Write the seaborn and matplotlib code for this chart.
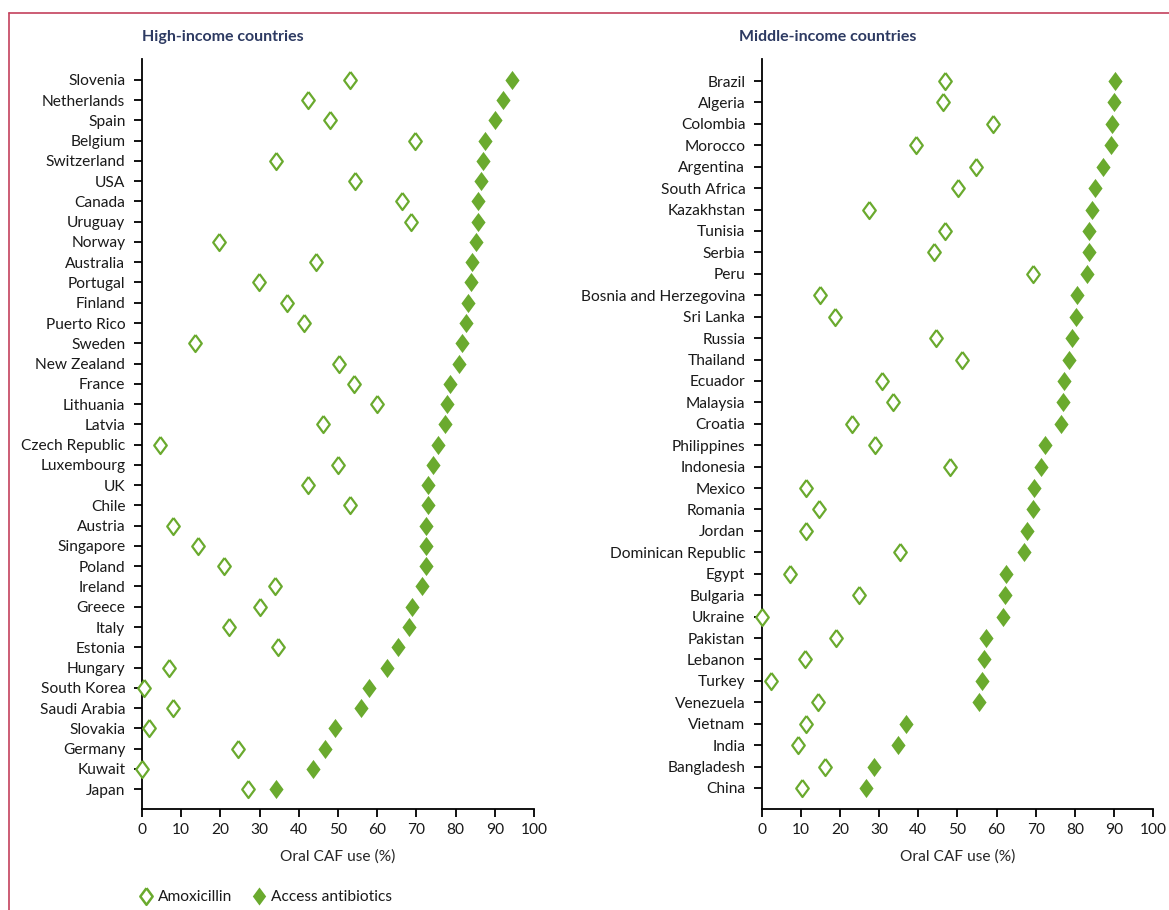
import matplotlib
matplotlib.use("Agg")
import matplotlib.pyplot as plt
from matplotlib.lines import Line2D
import pandas as pd
import seaborn as sns

# High-income countries
high_countries = [
    "Slovenia", "Netherlands", "Spain", "Belgium", "Switzerland", "USA", "Canada",
    "Uruguay", "Norway", "Australia", "Portugal", "Finland", "Puerto Rico", "Sweden",
    "New Zealand", "France", "Lithuania", "Latvia", "Czech Republic", "Luxembourg",
    "UK", "Chile", "Austria", "Singapore", "Poland", "Ireland", "Greece", "Italy",
    "Estonia", "Hungary", "South Korea", "Saudi Arabia", "Slovakia", "Germany",
    "Kuwait", "Japan",
]
high_amoxicillin = [
    53.0, 42.4, 47.9, 69.6, 34.3, 54.3, 66.3, 68.7, 19.7, 44.5, 29.8, 37.1, 41.2,
    13.6, 50.2, 54.2, 59.9, 46.1, 4.5, 50.0, 42.4, 53.0, 8.0, 14.3, 21.0, 33.8,
    30.2, 22.3, 34.8, 6.9, 0.4, 7.8, 1.9, 24.6, 0.1, 27.0,
]
high_access = [
    94.3, 92.1, 90.1, 87.4, 86.9, 86.5, 85.7, 85.6, 85.1, 84.2, 84.0, 83.1, 82.6,
    81.7, 80.8, 78.6, 77.8, 77.3, 75.6, 74.3, 73.0, 72.9, 72.4, 72.4, 72.4, 71.3,
    69.0, 68.2, 65.4, 62.4, 57.9, 55.9, 49.3, 46.8, 43.5, 34.3,
]

# Middle-income countries
middle_countries = [
    "Brazil", "Algeria", "Colombia", "Morocco", "Argentina", "South Africa",
    "Kazakhstan", "Tunisia", "Serbia", "Peru", "Bosnia and Herzegovina", "Sri Lanka",
    "Russia", "Thailand", "Ecuador", "Malaysia", "Croatia", "Philippines", "Indonesia",
    "Mexico", "Romania", "Jordan", "Dominican Republic", "Egypt", "Bulgaria",
    "Ukraine", "Pakistan", "Lebanon", "Turkey", "Venezuela", "Vietnam", "India",
    "Bangladesh", "China",
]
middle_amoxicillin = [
    46.9, 46.2, 59.2, 39.5, 54.8, 50.1, 27.4, 46.9, 44.0, 69.4, 14.9, 18.8, 44.6,
    51.2, 30.7, 33.5, 23.0, 28.9, 48.0, 11.3, 14.5, 11.2, 35.3, 7.2, 24.8, 0.1,
    18.9, 10.9, 2.2, 14.3, 11.3, 9.2, 16.2, 10.3,
]
middle_access = [
    90.3, 90.0, 89.4, 89.2, 87.2, 85.2, 84.4, 83.7, 83.7, 83.2, 80.5, 80.2, 79.2,
    78.5, 77.3, 77.1, 76.5, 72.4, 71.3, 69.6, 69.2, 67.7, 67.1, 62.3, 62.2, 61.7,
    57.2, 56.9, 56.4, 55.6, 36.8, 34.7, 28.7, 26.7,
]

x_ticks = [0, 10, 20, 30, 40, 50, 60, 70, 80, 90, 100]

GREEN = "#6aaa2e"
NAVY = "#2d3a62"
FRAME = "#c4415c"
DIAMOND = [(0, 1), (0.74, 0), (0, -1), (-0.74, 0), (0, 1)]

sns.set_theme(style="ticks")
plt.rcParams["font.family"] = ["Lato", "DejaVu Sans"]
plt.rcParams["axes.linewidth"] = 1.3
plt.rcParams["xtick.major.width"] = 1.3
plt.rcParams["ytick.major.width"] = 1.3
plt.rcParams["xtick.major.size"] = 6
plt.rcParams["ytick.major.size"] = 6
plt.rcParams["xtick.color"] = "black"
plt.rcParams["ytick.color"] = "black"
plt.rcParams["axes.edgecolor"] = "black"
plt.rcParams["text.color"] = "#1a1a1a"

fig = plt.figure(figsize=(11.69, 9.10), dpi=100)
ax_hi = fig.add_axes([0.1215, 0.111, 0.3353, 0.824])
ax_mid = fig.add_axes([0.6518, 0.111, 0.3345, 0.824])

LABEL_SIZE = 11.2


def draw_panel(ax, countries, amox, access, title, title_x):
    df = pd.DataFrame({"country": countries, "pos": range(len(countries)),
                       "amoxicillin": amox, "access": access})
    sns.scatterplot(data=df, x="amoxicillin", y="pos", ax=ax, marker=DIAMOND,
                    s=150, facecolor="white", edgecolor=GREEN, linewidth=1.6,
                    zorder=3, legend=False, clip_on=False)
    sns.scatterplot(data=df, x="access", y="pos", ax=ax, marker=DIAMOND,
                    s=190, color=GREEN, edgecolor=GREEN, linewidth=0,
                    zorder=4, legend=False, clip_on=False)
    n = len(countries)
    ax.set_ylim(n - 0.02, -1.02)
    ax.set_xlim(0, 100)
    ax.set_yticks(range(n))
    ax.set_yticklabels(countries, fontsize=LABEL_SIZE, color="#1a1a1a")
    ax.set_xticks(x_ticks)
    ax.set_xticklabels([str(t) for t in x_ticks], fontsize=LABEL_SIZE,
                       color="#1a1a1a")
    ax.tick_params(axis="y", pad=6)
    ax.tick_params(axis="x", pad=4)
    ax.set_ylabel("")
    ax.set_xlabel("Oral CAF use (%)", fontsize=LABEL_SIZE, labelpad=9)
    sns.despine(ax=ax)
    fig.text(title_x, 0.959, title, fontsize=11.5, fontweight="bold",
             color=NAVY, ha="left", va="center")


draw_panel(ax_hi, high_countries, high_amoxicillin, high_access,
           "High-income countries", 0.1215)
draw_panel(ax_mid, middle_countries, middle_amoxicillin, middle_access,
           "Middle-income countries", 0.632)

# Thin frame along the top and left edges
fig.add_artist(Line2D([0.0077, 1.0], [0.9857, 0.9857], color=FRAME, lw=1.2,
                      transform=fig.transFigure))
fig.add_artist(Line2D([0.0077, 0.0077], [0.0, 0.9857], color=FRAME, lw=1.2,
                      transform=fig.transFigure))

handles = [
    Line2D([], [], linestyle="none", marker=DIAMOND, markersize=12,
           markerfacecolor="white", markeredgecolor=GREEN, markeredgewidth=1.8,
           label="Amoxicillin"),
    Line2D([], [], linestyle="none", marker=DIAMOND, markersize=13,
           markerfacecolor=GREEN, markeredgecolor=GREEN, markeredgewidth=0,
           label="Access antibiotics"),
]
fig.legend(handles=handles, loc="center left", bbox_to_anchor=(0.106, 0.014),
           ncol=2, frameon=False, fontsize=LABEL_SIZE, handlelength=1.0,
           handletextpad=0.3, columnspacing=1.2)

fig.savefig("out.png", dpi=100)
